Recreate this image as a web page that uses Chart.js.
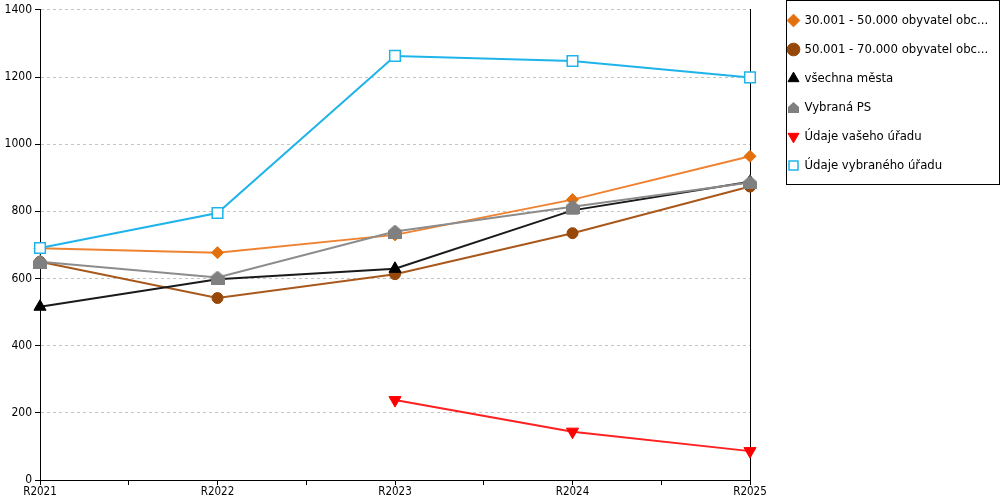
<!DOCTYPE html>
<html>
<head>
<meta charset="utf-8">
<script src="https://cdn.jsdelivr.net/npm/chart.js@4.4.1/dist/chart.umd.min.js"></script>
<style>
  html, body { margin: 0; padding: 0; background: #fff; }
  #wrap { width: 1000px; height: 500px; }
</style>
</head>
<body>
<div id="wrap"><canvas id="chart" width="1000" height="500"></canvas></div>
<script>
// data
var years = ['R2021', 'R2022', 'R2023', 'R2024', 'R2025'];
var names = [
    '30.001 - 50.000 obyvatel obc...',
    '50.001 - 70.000 obyvatel obc...',
    'všechna města',
    'Vybraná PS',
    'Údaje vašeho úřadu',
    'Údaje vybraného úřadu'
];
var obce30 = [690, 677, 730, 835, 964];
var obce50 = [650, 542, 613, 735, 874];
var vsechnaMesta = [516, 598, 629, 803, 888];
var vybranaPS = [650, 603, 740, 814, 886];
var vasUrad = [null, null, 238, 144, 86];
var vybranyUrad = [691, 795, 1263, 1248, 1199];
var yMax = 1400, yStep = 200;

var FONT = "'DejaVu Sans Condensed', 'DejaVu Sans', sans-serif";

// little "house" marker used for Vybraná PS
function makeHouse(size) {
    var c = document.createElement('canvas');
    c.width = size; c.height = size;
    var g = c.getContext('2d');
    var h = Math.round(size * 0.45);
    g.fillStyle = '#808080';
    g.beginPath();
    g.moveTo(size / 2, 0);
    g.lineTo(size, h);
    g.lineTo(size, size);
    g.lineTo(0, size);
    g.lineTo(0, h);
    g.closePath();
    g.fill();
    return c;
}
var houseBig = makeHouse(14);
var houseSmall = makeHouse(11);

function line(label, data, color, markColor, style, radius, order, extra) {
    var ds = {
        label: label,
        data: data,
        borderColor: color,
        backgroundColor: markColor,
        pointBackgroundColor: markColor,
        pointBorderColor: markColor,
        pointStyle: style,
        pointRadius: radius,
        pointHoverRadius: radius,
        pointBorderWidth: 1,
        borderWidth: 2,
        tension: 0,
        order: order
    };
    for (var k in extra) ds[k] = extra[k];
    return ds;
}

var datasets = [
    line(names[0], obce30, '#EF8230', '#E3700F', 'rectRot', 6, 6),
    line(names[1], obce50, '#A9581C', '#974708', 'circle', 5.5, 5),
    line(names[2], vsechnaMesta, '#1a1a1a', '#000000', 'triangle', 7, 4),
    line(names[3], vybranaPS, '#8C8C8C', '#808080', houseBig, 7, 3),
    line(names[4], vasUrad, '#FF2020', '#FF0000', 'triangle', 7, 2, { pointRotation: 180 }),
    line(names[5], vybranyUrad, '#1EB4EA', '#FFFFFF', 'rect', 7.5, 1, { pointBorderColor: '#1EB4EA', pointBorderWidth: 1.5 })
];

var legendTweaks = {
    id: 'legendTweaks',
    beforeInit: function (chart) {
        var fit = chart.legend.fit;
        chart.legend.fit = function () {
            fit.call(this);
            this.width = 250;
        };
    },
    afterLayout: function (chart) {
        chart.legend.left = chart.chartArea.right + 23;
        chart.legend.top = -2;
    },
    afterDraw: function (chart) {
        var ctx = chart.ctx;
        var x = chart.chartArea.right + 36.5;
        ctx.save();
        ctx.strokeStyle = '#000';
        ctx.lineWidth = 1;
        ctx.strokeRect(x, 0.5, chart.width - 0.5 - x, 184);
        ctx.restore();
    }
};

new Chart(document.getElementById('chart').getContext('2d'), {
    type: 'line',
    data: { labels: years, datasets: datasets },
    plugins: [legendTweaks],
    options: {
        responsive: false,
        animation: false,
        layout: { padding: 0 },
        plugins: {
            tooltip: { enabled: false },
            legend: {
                position: 'right',
                align: 'start',
                labels: {
                    usePointStyle: true,
                    boxWidth: 9,
                    boxHeight: 9,
                    padding: 16,
                    color: '#000',
                    font: { family: FONT, size: 13 },
                    sort: function (a, b) { return a.datasetIndex - b.datasetIndex; },
                    generateLabels: function (chart) {
                        var items = Chart.defaults.plugins.legend.labels.generateLabels(chart);
                        items.forEach(function (it) {
                            if (it.datasetIndex === 3) it.pointStyle = houseSmall;
                            if (it.datasetIndex === 5) { it.fillStyle = '#fff'; it.strokeStyle = '#1EB4EA'; it.lineWidth = 1.5; }
                        });
                        return items;
                    }
                }
            }
        },
        scales: {
            x: {
                type: 'category',
                offset: false,
                grid: { drawOnChartArea: false, drawTicks: true, tickLength: 5, color: '#000' },
                border: { color: '#000', width: 1 },
                ticks: {
                    autoSkip: false,
                    maxRotation: 0,
                    padding: 0,
                    color: '#000',
                    font: { family: FONT, size: 11.5 },
                    callback: function (v) { return Number.isInteger(v) ? years[v] : ''; }
                },
                afterBuildTicks: function (s) {
                    var t = [];
                    years.forEach(function (y, i) {
                        t.push({ value: i });
                        if (i < years.length - 1) t.push({ value: i + 0.5 });
                    });
                    s.ticks = t;
                },
                afterFit: function (s) { s.height = 20; }
            },
            y: {
                min: 0,
                max: yMax,
                grid: { color: '#c4c4c4', tickColor: '#000', tickLength: 5 },
                border: { color: '#000', width: 1, dash: [3, 3] },
                ticks: {
                    stepSize: yStep,
                    padding: 3,
                    color: '#000',
                    font: { family: FONT, size: 12, lineHeight: 1.15 },
                    callback: function (v) { return String(v); }
                },
                afterFit: function (s) { s.width = 40; }
            },
            y2: {
                position: 'right',
                min: 0,
                max: yMax,
                grid: { drawOnChartArea: false, drawTicks: false },
                border: { color: '#000', width: 1 },
                ticks: { display: false },
                afterFit: function (s) { s.width = 0; }
            }
        }
    }
});
</script>
</body>
</html>
